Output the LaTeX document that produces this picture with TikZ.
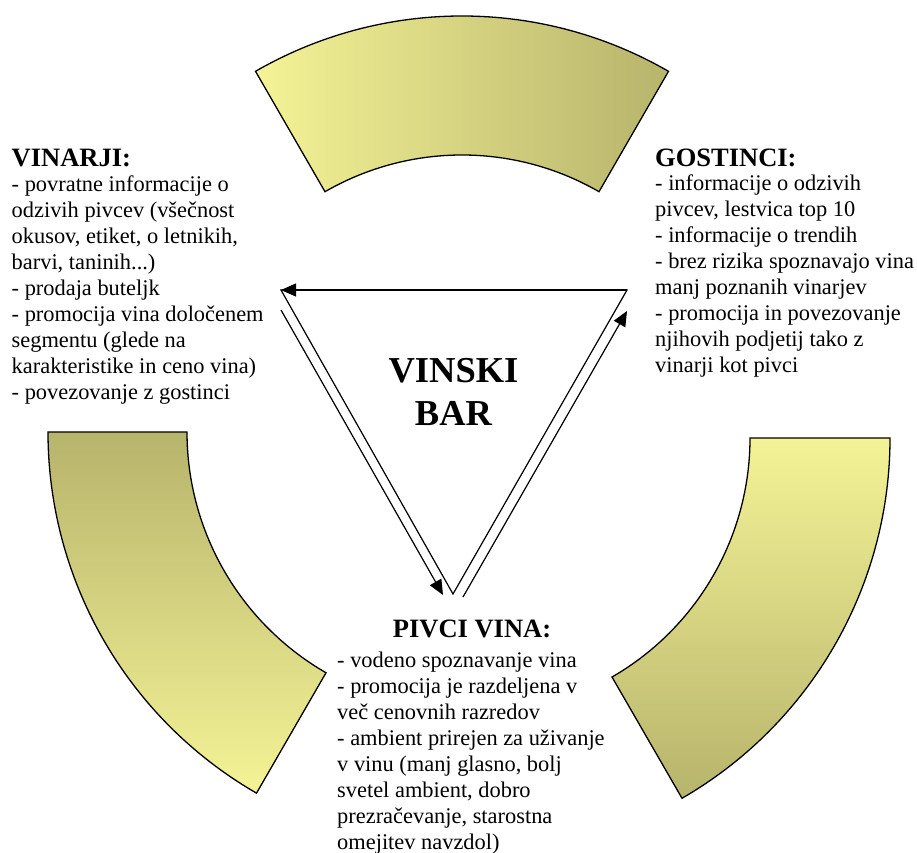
\documentclass[tikz,border=0pt]{standalone}
\usepackage{fontspec}
\setmainfont{Liberation Serif}
\usetikzlibrary{arrows.meta}
\definecolor{ylight}{RGB}{244,243,150}
\definecolor{ydark}{RGB}{183,180,108}
\begin{document}
\begin{tikzpicture}[x=1pt,y=1pt,
  sector/.style={draw=black, line width=1.3pt},
  edge/.style={line width=1.2pt},
  arr/.style={line width=1.2pt, -{Triangle[length=15pt,width=13pt]}},
  body/.style={anchor=base west, inner sep=0pt, font=\fontsize{22.4}{26}\selectfont},
  head/.style={inner sep=0pt, font=\fontsize{26.5}{30}\selectfont\bfseries},
  center/.style={anchor=base, inner sep=0pt, font=\fontsize{36.5}{42.4}\selectfont\bfseries}]
\useasboundingbox (0,0) rectangle (917,852);
% sector centres
\coordinate (ct) at (462,423);
\coordinate (cl) at (465,420);
\coordinate (cr) at (474,414);
% top sector
\shadedraw[sector, left color=ylight, right color=ydark]
  ([shift={(60:413)}]ct) arc[start angle=60,end angle=120,radius=413]
  -- ([shift={(120:274)}]ct) arc[start angle=120,end angle=60,radius=274] -- cycle;
% left sector
\shadedraw[sector, top color=ydark, bottom color=ylight]
  ([shift={(180:417)}]cl) arc[start angle=180,end angle=240,radius=417]
  -- ([shift={(240:278)}]cl) arc[start angle=240,end angle=180,radius=278] -- cycle;
% right sector
\shadedraw[sector, top color=ylight, bottom color=ydark]
  ([shift={(300:416)}]cr) arc[start angle=300,end angle=360,radius=416]
  -- ([shift={(0:276)}]cr) arc[start angle=360,end angle=300,radius=276] -- cycle;
% triangle
\coordinate (A) at (281,562);
\coordinate (B) at (627,562);
\coordinate (C) at (453,258);
\draw[edge, fill=white] (A) -- (B) -- (C) -- cycle;
\draw[arr] (B) -- (A);
\coordinate (la1) at (281,542);
\coordinate (la2) at (443,257);
\draw[arr] (la1) -- (la2);
\coordinate (ra1) at (463,255);
\coordinate (ra2) at (627,541);
\draw[arr] (ra1) -- (ra2);
% centre text
\node[center] (bar) at (453.5,469) {\begin{tabular}[t]{@{}c@{}}VINSKI\\BAR\end{tabular}};
% VINARJI
\node[head, anchor=base west] (vinH) at (11.5,685) {VINARJI:};
\node[body] (vinB) at (11.5,660) {\begin{tabular}[t]{@{}l@{}}- povratne informacije o\\odzivih pivcev (všečnost\\okusov, etiket, o letnikih,\\barvi, taninih...)\\- prodaja buteljk\\- promocija vina določenem\\segmentu (glede na\\karakteristike in ceno vina)\\- povezovanje z gostinci\end{tabular}};
% GOSTINCI
\node[head, anchor=base west] (gosH) at (655,685) {GOSTINCI:};
\node[body] (gosB) at (655,661) {\begin{tabular}[t]{@{}l@{}}- informacije o odzivih\\pivcev, lestvica top 10\\- informacije o trendih\\- brez rizika spoznavajo vina\\manj poznanih vinarjev\\- promocija in povezovanje\\njihovih podjetij tako z\\vinarji kot pivci\end{tabular}};
% PIVCI VINA
\node[head, anchor=base] (pivH) at (472,215) {PIVCI VINA:};
\node[body] (pivB) at (337,184.5) {\begin{tabular}[t]{@{}l@{}}- vodeno spoznavanje vina\\- promocija je razdeljena v\\več cenovnih razredov\\- ambient prirejen za uživanje\\v vinu (manj glasno, bolj\\svetel ambient, dobro\\prezračevanje, starostna\\omejitev navzdol)\end{tabular}};
\end{tikzpicture}
\end{document}
